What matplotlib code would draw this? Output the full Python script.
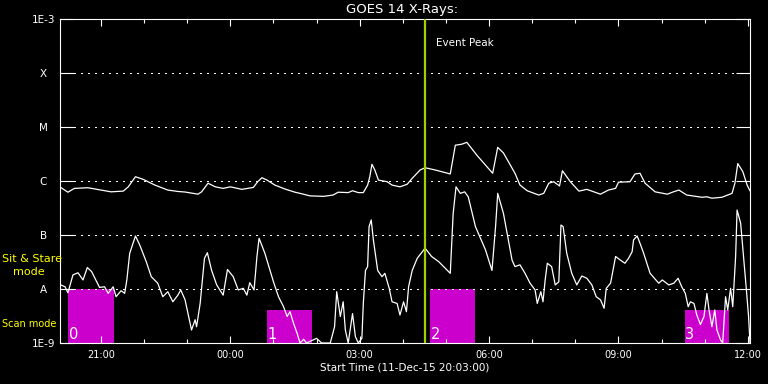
import matplotlib
matplotlib.use("Agg")
import matplotlib.pyplot as plt
import matplotlib.ticker as mticker
import matplotlib.transforms as mtransforms

# GOES 14 X-ray flux, times in minutes after 11-Dec-15 20:03:00

# long channel (1-8 A)
t_long = [1, 11, 20, 39, 57, 71, 88, 95, 105, 116,
          132, 150, 164, 174, 192, 197, 206, 216, 227, 237,
          253, 269, 275, 281, 288, 299, 313, 327, 334, 348,
          367, 380, 387, 401, 407, 415, 422, 428, 431, 434,
          438, 443, 455, 462, 473, 483, 490, 501, 508, 522,
          543, 550, 559, 566, 580, 602, 609, 617, 633, 640,
          650, 666, 673, 680, 687, 695, 699, 710, 722, 733,
          752, 763, 773, 777, 793, 800, 807, 814, 828, 845,
          852, 861, 872, 893, 900, 907, 921, 935, 939, 943,
          950, 956, 960]
f_long = [7.6e-7, 6.2e-7, 7.3e-7, 7.5e-7, 6.8e-7, 6.3e-7, 6.5e-7, 7.8e-7, 1.2e-6, 1.07e-6,
          8.4e-7, 6.8e-7, 6.4e-7, 6.25e-7, 5.7e-7, 6.3e-7, 9.1e-7, 7.8e-7, 7.3e-7, 7.8e-7,
          7.0e-7, 7.6e-7, 9.7e-7, 1.15e-6, 1.04e-6, 8.4e-7, 7.1e-7, 6.2e-7, 5.9e-7, 5.3e-7,
          5.2e-7, 5.5e-7, 6.2e-7, 6.1e-7, 6.6e-7, 6.1e-7, 6.1e-7, 8.4e-7, 1.2e-6, 2.04e-6,
          1.6e-6, 1.04e-6, 9.7e-7, 8.4e-7, 7.8e-7, 8.7e-7, 1.12e-6, 1.6e-6, 1.76e-6, 1.6e-6,
          1.35e-6, 4.6e-6, 4.8e-6, 5.2e-6, 3.0e-6, 1.39e-6, 4.2e-6, 3.3e-6, 1.39e-6, 8.4e-7,
          6.6e-7, 5.5e-7, 5.9e-7, 9.1e-7, 9.7e-7, 8.1e-7, 1.55e-6, 9.7e-7, 6.5e-7, 7.0e-7,
          5.7e-7, 6.8e-7, 7.3e-7, 9.5e-7, 9.7e-7, 1.35e-6, 1.39e-6, 9.1e-7, 6.3e-7, 5.7e-7,
          6.2e-7, 6.8e-7, 5.5e-7, 5.0e-7, 5.1e-7, 4.8e-7, 5.0e-7, 5.9e-7, 9.1e-7, 2.1e-6,
          1.49e-6, 8.4e-7, 6.6e-7]

# short channel (0.5-4 A)
t_short = [1, 7, 11, 18, 25, 32, 38, 44, 51, 55,
           62, 67, 74, 78, 85, 90, 93, 97, 105, 111,
           120, 127, 136, 143, 150, 157, 164, 168, 174, 179,
           183, 188, 190, 195, 201, 205, 211, 218, 227, 233,
           241, 248, 255, 260, 264, 270, 274, 277, 285, 297,
           304, 311, 316, 320, 325, 330, 334, 339, 343, 357,
           364, 376, 382, 385, 390, 394, 397, 401, 407, 411,
           415, 420, 422, 425, 428, 430, 433, 436, 442, 448,
           452, 458, 462, 469, 473, 478, 482, 485, 490, 497,
           508, 517, 527, 543, 547, 551, 557, 563, 568, 578,
           592, 601, 606, 609, 617, 629, 633, 640, 647, 654,
           661, 664, 669, 672, 675, 678, 684, 689, 694, 697,
           700, 705, 712, 719, 726, 733, 740, 746, 752, 757,
           760, 766, 773, 780, 786, 791, 796, 798, 803, 807,
           812, 821, 833, 838, 847, 854, 860, 865, 870, 874,
           877, 882, 886, 891, 896, 900, 903, 907, 911, 914,
           919, 922, 926, 929, 933, 936, 940, 942, 947, 951,
           955, 958, 960]
f_short = [1.19e-8, 1.10e-8, 8.5e-9, 1.82e-8, 2.0e-8, 1.47e-8, 2.5e-8, 2.1e-8, 1.36e-8, 1.07e-8,
           1.10e-8, 8.3e-9, 1.10e-8, 7.2e-9, 9.3e-9, 8.3e-9, 1.47e-8, 4.6e-8, 9.6e-8, 6.5e-8,
           3.2e-8, 1.69e-8, 1.28e-8, 7.2e-9, 8.9e-9, 5.8e-9, 7.7e-9, 9.6e-9, 6.3e-9, 3.1e-9,
           1.74e-9, 2.7e-9, 2.0e-9, 5.4e-9, 3.7e-8, 4.7e-8, 2.2e-8, 1.19e-8, 7.7e-9, 2.3e-8,
           1.69e-8, 9.6e-9, 1.03e-8, 7.7e-9, 1.31e-8, 9.6e-9, 4.0e-8, 8.7e-8, 4.6e-8, 1.36e-8,
           7.2e-9, 4.7e-9, 3.1e-9, 3.8e-9, 2.3e-9, 1.5e-9, 1.0e-9, 1.17e-9, 1.0e-9, 1.22e-9,
           1.0e-9, 1.0e-9, 2.0e-9, 8.9e-9, 3.1e-9, 5.8e-9, 1.74e-9, 1.0e-9, 3.5e-9, 1.31e-9,
           1.0e-9, 1.22e-9, 5.4e-9, 2.2e-8, 2.6e-8, 1.43e-7, 1.9e-7, 8.1e-8, 2.2e-8, 1.69e-8,
           1.95e-8, 1.03e-8, 5.8e-9, 5.4e-9, 3.3e-9, 5.8e-9, 3.8e-9, 1.10e-8, 2.2e-8, 3.7e-8,
           5.7e-8, 4.0e-8, 3.2e-8, 1.95e-8, 2.5e-7, 7.8e-7, 5.9e-7, 6.3e-7, 5.1e-7, 1.43e-7,
           5.3e-8, 2.2e-8, 1.43e-7, 5.9e-7, 2.5e-7, 3.4e-8, 2.6e-8, 2.8e-8, 1.95e-8, 1.28e-8,
           9.6e-9, 5.4e-9, 8.9e-9, 5.8e-9, 1.47e-8, 3.0e-8, 2.6e-8, 1.19e-8, 1.36e-8, 1.53e-7,
           1.43e-7, 4.6e-8, 1.95e-8, 1.19e-8, 1.74e-8, 1.58e-8, 1.19e-8, 7.2e-9, 6.3e-9, 4.4e-9,
           1.03e-8, 1.28e-8, 4.0e-8, 3.4e-8, 3.0e-8, 3.7e-8, 4.9e-8, 8.1e-8, 9.6e-8, 7.0e-8,
           4.6e-8, 1.95e-8, 1.28e-8, 1.47e-8, 1.19e-8, 1.28e-8, 1.58e-8, 1.10e-8, 8.3e-9, 4.7e-9,
           5.8e-9, 5.4e-9, 3.3e-9, 2.2e-9, 3.1e-9, 8.3e-9, 4.1e-9, 2.0e-9, 4.1e-9, 1.74e-9,
           1.14e-9, 1.0e-9, 7.2e-9, 4.1e-9, 1.03e-8, 4.7e-9, 4.0e-8, 2.9e-7, 1.65e-7, 4.0e-8,
           9.6e-9, 3.1e-9, 1.0e-9]

flare_labels = ["1E-3", "X", "M", "C", "B", "A", "1E-9"]
flare_levels = [1e-3, 1e-4, 1e-5, 1e-6, 1e-7, 1e-8, 1e-9]
grid_levels = [1e-4, 1e-5, 1e-6, 1e-7, 1e-8]

hour_labels = ["21:00", "00:00", "03:00", "06:00", "09:00", "12:00"]
hour_minutes = [57, 237, 417, 597, 777, 957]
minor_minutes = [117, 177, 297, 357, 477, 537, 657, 717, 837, 897]

event_peak = 508  # 04:31

# mode windows: start, end, top, number
box_start = [11, 288, 515, 869]
box_end = [75, 351, 578, 931]
box_top = [1e-8, 4.1e-9, 1e-8, 4.1e-9]
box_names = ["0", "1", "2", "3"]

W, H = 768, 384
fig = plt.figure(figsize=(W / 100, H / 100), dpi=100, facecolor="black")
ax = fig.add_axes([60 / W, 1 - 343 / H, 690 / W, 324 / H])
ax.set_facecolor("black")
ax.set_yscale("log")
ax.set_ylim(1e-9, 1e-3)
ax.set_xlim(0, 960)

# mode boxes
widths = [e - s for s, e in zip(box_start, box_end)]
heights = [t - 1e-9 for t in box_top]
ax.bar(box_start, heights, width=widths, bottom=1e-9, align="edge",
       color="#cc00cc", linewidth=0, zorder=1)
trans = mtransforms.blended_transform_factory(ax.transData, ax.transAxes)
for s, name in zip(box_start, box_names):
    ax.text(s + 1, 0.013, name, transform=trans, color="white",
            fontsize=10.5, ha="left", va="baseline", zorder=5)

# dotted class lines
for lv in grid_levels:
    ax.axhline(lv, color="white", lw=0.75, linestyle=(0, (1, 5)),
               antialiased=False, zorder=2)

ax.plot(t_long, f_long, color="white", lw=0.9, zorder=3)
ax.plot(t_short, f_short, color="white", lw=0.9, zorder=3)

ax.axvline(event_peak, color="#a0d000", lw=1.6, zorder=4)
ax.text(event_peak + 15, 0.926, "Event Peak", transform=trans, color="white",
        fontsize=7.5, ha="left", va="center")

# axes styling
for sp in ax.spines.values():
    sp.set_color("white")
    sp.set_linewidth(0.8)

ax.yaxis.set_minor_locator(mticker.NullLocator())
ax.set_yticks(flare_levels)
ax.set_yticklabels(flare_labels)
ax.tick_params(axis="y", which="major", direction="in", length=10, width=0.8,
               colors="white", left=True, right=True, pad=12, labelsize=7.5)
for lab in ax.get_yticklabels():
    lab.set_horizontalalignment("center")

ax.set_xticks(hour_minutes)
ax.set_xticklabels(hour_labels)
ax.set_xticks(minor_minutes, minor=True)
ax.tick_params(axis="x", which="major", direction="in", length=5, width=0.8,
               colors="white", top=True, bottom=True, pad=5, labelsize=7)
ax.tick_params(axis="x", which="minor", direction="in", length=3, width=0.8,
               color="white", top=True, bottom=True)

fig.text(402 / W, 1 - 10 / H, "GOES 14 X-Rays:", color="white", fontsize=9.5,
         ha="center", va="center")
fig.text(405 / W, 1 - 368 / H, "Start Time (11-Dec-15 20:03:00)", color="white",
         fontsize=7.5, ha="center", va="center")

fig.text(2 / W, 1 - 259 / H, "Sit & Stare", color="yellow", fontsize=8,
         ha="left", va="center")
fig.text(13 / W, 1 - 272 / H, "mode", color="yellow", fontsize=8,
         ha="left", va="center")
fig.text(2 / W, 1 - 324 / H, "Scan mode", color="yellow", fontsize=7,
         ha="left", va="center")

fig.savefig("out.png", dpi=100, facecolor="black")
